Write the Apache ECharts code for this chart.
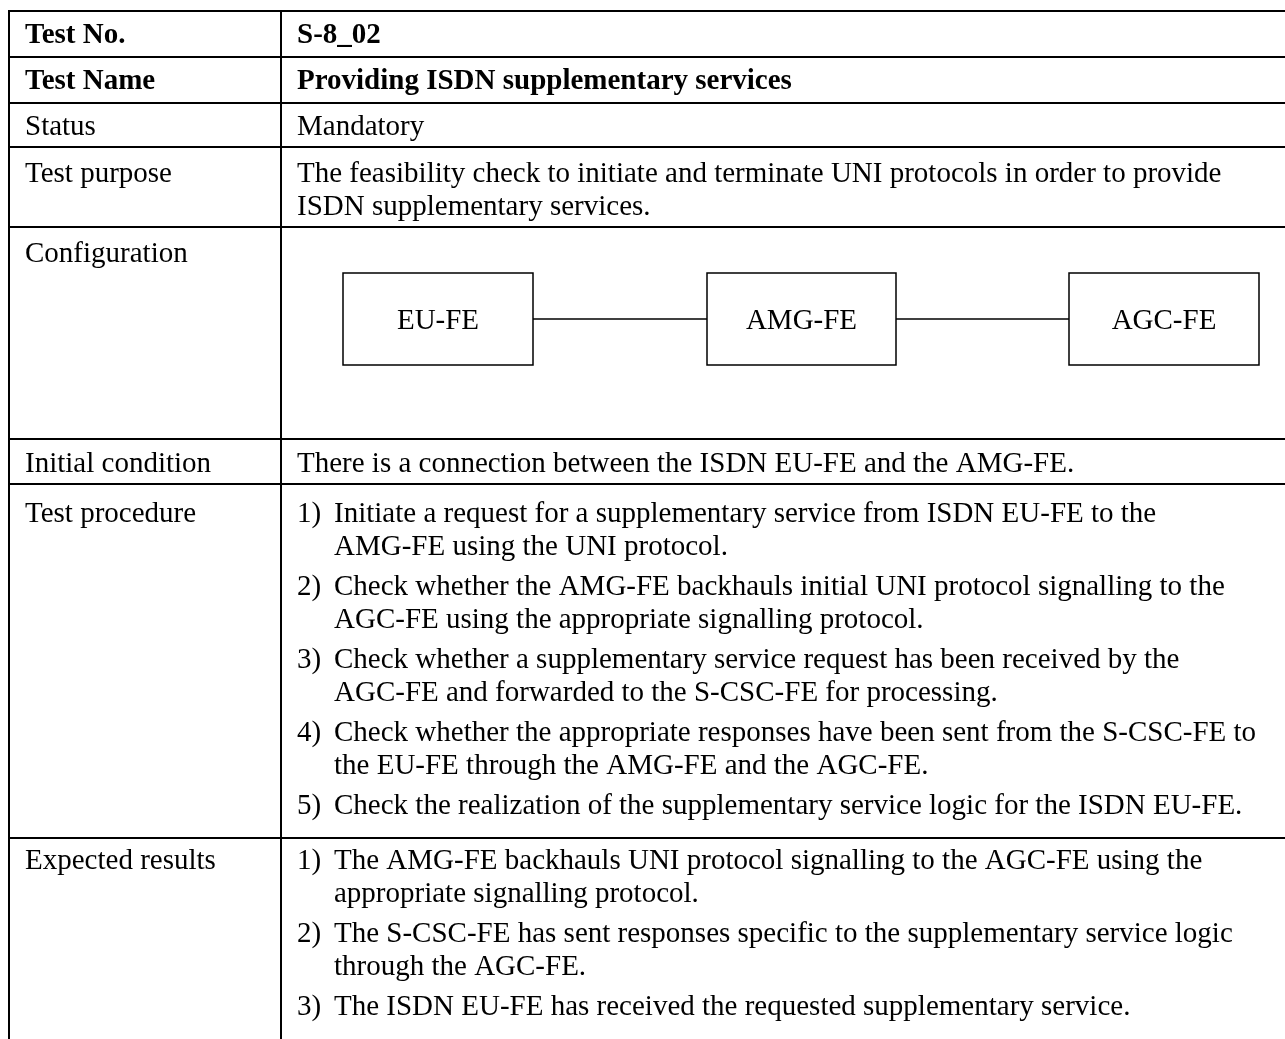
<!DOCTYPE html>
<html>
<head>
<meta charset="utf-8">
<script src="https://cdn.jsdelivr.net/npm/echarts@6/dist/echarts.min.js"></script>
<style>
html,body{margin:0;padding:0;background:#fff;}
#chart{width:1285px;height:1039px;}
</style>
</head>
<body>
<div id="chart"></div>
<script>
// ---- content ----
const rowLabels = ['Test No.', 'Test Name', 'Status', 'Test purpose', 'Configuration', 'Initial condition', 'Test procedure', 'Expected results'];
const boldRows = [true, true, false, false, false, false, false, false];
const testNo = ['S-8_02'];
const testName = ['Providing ISDN supplementary services'];
const statusText = ['Mandatory'];
const purposeLines = ['The feasibility check to initiate and terminate UNI protocols in order to provide', 'ISDN supplementary services.'];
const configNodes = ['EU-FE', 'AMG-FE', 'AGC-FE'];
const initialCondition = ['There is a connection between the ISDN EU-FE and the AMG-FE.'];
const procedureSteps = [
  ['Initiate a request for a supplementary service from ISDN EU-FE to the', 'AMG-FE using the UNI protocol.'],
  ['Check whether the AMG-FE backhauls initial UNI protocol signalling to the', 'AGC-FE using the appropriate signalling protocol.'],
  ['Check whether a supplementary service request has been received by the', 'AGC-FE and forwarded to the S-CSC-FE for processing.'],
  ['Check whether the appropriate responses have been sent from the S-CSC-FE to', 'the EU-FE through the AMG-FE and the AGC-FE.'],
  ['Check the realization of the supplementary service logic for the ISDN EU-FE.']
];
const expectedResults = [
  ['The AMG-FE backhauls UNI protocol signalling to the AGC-FE using the', 'appropriate signalling protocol.'],
  ['The S-CSC-FE has sent responses specific to the supplementary service logic', 'through the AGC-FE.'],
  ['The ISDN EU-FE has received the requested supplementary service.']
];

// ---- layout ----
const L = {
  left: 9, divider: 281, right: 1290,
  rowLines: [11, 57, 103, 147, 227, 439, 484, 838, 1046],
  firstY: [34, 80, 125, 172, 252, 462, 512, 859],
  textDy: 2,
  labelX: 25, valueX: 297, indentX: 334,
  lineGap: 33, paraGap: 40,
  font: 29, border: 2,
  boxes: [[343, 533], [707, 896], [1069, 1259]], boxTop: 273, boxBottom: 365
};
const FAMILY = '"Liberation Serif", "Times New Roman", serif';

const els = [];
function txt(s, x, y, bold, align) {
  els.push({ type: 'text', x: x, y: y + L.textDy, silent: true,
    style: { text: s, fill: '#000', font: (bold ? 'bold ' : '') + L.font + 'px ' + FAMILY,
      align: align || 'left', verticalAlign: 'middle' } });
}
function line(x1, y1, x2, y2, w) {
  els.push({ type: 'line', silent: true, shape: { x1, y1, x2, y2 }, style: { stroke: '#000', lineWidth: w } });
}

// grid lines
L.rowLines.forEach(y => line(L.left - 1, y, L.right, y, L.border));
line(L.left, L.rowLines[0], L.left, L.rowLines[L.rowLines.length - 1], L.border);
line(L.divider, L.rowLines[0], L.divider, L.rowLines[L.rowLines.length - 1], L.border);

// labels
rowLabels.forEach((lab, i) => txt(lab, L.labelX, L.firstY[i], boldRows[i]));

// simple values
function simple(lines, row, bold) {
  lines.forEach((s, k) => txt(s, L.valueX, L.firstY[row] + k * L.lineGap, bold));
}
simple(testNo, 0, true);
simple(testName, 1, true);
simple(statusText, 2, false);
simple(purposeLines, 3, false);
simple(initialCondition, 5, false);

// numbered lists
function list(items, row) {
  let y = L.firstY[row];
  items.forEach((item, i) => {
    txt((i + 1) + ')', L.valueX, y, false);
    item.forEach((s, k) => {
      txt(s, L.indentX, y, false);
      if (k < item.length - 1) y += L.lineGap;
    });
    y += L.paraGap;
  });
}
list(procedureSteps, 6);
list(expectedResults, 7);

// configuration diagram
const cy = (L.boxTop + L.boxBottom) / 2;
configNodes.forEach((name, i) => {
  const [x1, x2] = L.boxes[i];
  els.push({ type: 'rect', silent: true, shape: { x: x1, y: L.boxTop, width: x2 - x1, height: L.boxBottom - L.boxTop },
    style: { fill: 'none', stroke: '#000', lineWidth: 1.5 } });
  txt(name, (x1 + x2) / 2, cy, false, 'center');
  if (i < configNodes.length - 1) line(x2, cy, L.boxes[i + 1][0], cy, 1.5);
});

const chart = echarts.init(document.getElementById('chart'), null, { renderer: 'canvas' });
chart.setOption({ backgroundColor: '#fff', animation: false, graphic: { elements: els } });
</script>
</body>
</html>
